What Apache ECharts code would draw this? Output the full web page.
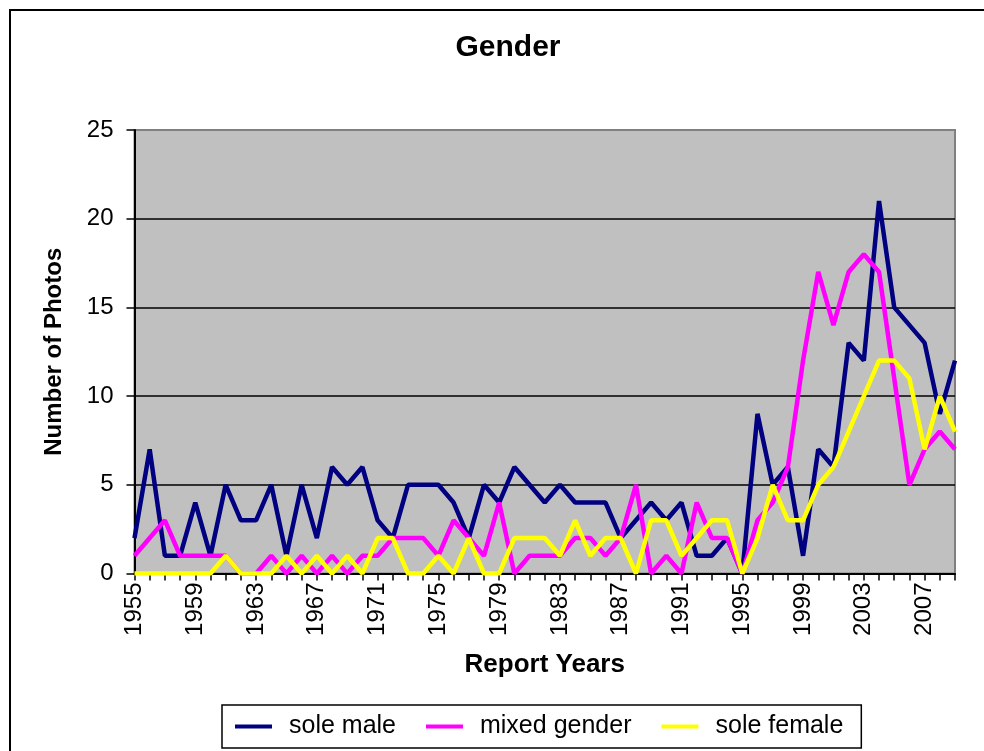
<!DOCTYPE html>
<html>
<head>
<meta charset="utf-8">
<title>Gender</title>
<script src="https://cdn.jsdelivr.net/npm/echarts@6/dist/echarts.min.js"></script>
<style>
  html, body { margin: 0; padding: 0; background: #fff; }
  #genderChart { width: 984px; height: 751px; }
</style>
</head>
<body>
<div id="genderChart"></div>
<script>
// report years on the category axis
const years = [
  "1955", "1956", "1957", "1958", "1959", "1960", "1961", "1962", "1963", "1964",
  "1965", "1966", "1967", "1968", "1969", "1970", "1971", "1972", "1973", "1974",
  "1975", "1976", "1977", "1978", "1979", "1980", "1981", "1982", "1983", "1984",
  "1985", "1986", "1987", "1988", "1989", "1990", "1991", "1992", "1993", "1994",
  "1995", "1996", "1997", "1998", "1999", "2000", "2001", "2002", "2003", "2004",
  "2005", "2006", "2007", "2008", "2009"
];
const soleMale = [
  2, 7, 1, 1, 4, 1, 5, 3, 3, 5,
  1, 5, 2, 6, 5, 6, 3, 2, 5, 5,
  5, 4, 2, 5, 4, 6, 5, 4, 5, 4,
  4, 4, 2, 3, 4, 3, 4, 1, 1, 2,
  0, 9, 5, 6, 1, 7, 6, 13, 12, 21,
  15, 14, 13, 9, 12
];
const mixedGender = [
  1, 2, 3, 1, 1, 1, 1, 0, 0, 1,
  0, 1, 0, 1, 0, 1, 1, 2, 2, 2,
  1, 3, 2, 1, 4, 0, 1, 1, 1, 2,
  2, 1, 2, 5, 0, 1, 0, 4, 2, 2,
  0, 3, 4, 6, 12, 17, 14, 17, 18, 17,
  11, 5, 7, 8, 7
];
const soleFemale = [
  0, 0, 0, 0, 0, 0, 1, 0, 0, 0,
  1, 0, 1, 0, 1, 0, 2, 2, 0, 0,
  1, 0, 2, 0, 0, 2, 2, 2, 1, 3,
  1, 2, 2, 0, 3, 3, 1, 2, 3, 3,
  0, 2, 5, 3, 3, 5, 6, 8, 10, 12,
  12, 11, 7, 10, 8
];
const yTicks = { min: 0, max: 25, step: 5 };

const font = "Liberation Sans";
let myChart = echarts.init(document.getElementById("genderChart"));

function lineSeries(name, data, color) {
  return {
    name: name,
    type: "line",
    data: data,
    symbol: "none",
    color: color,
    lineStyle: { color: color, width: 4.5 },
    animation: false
  };
}

let option = {
  backgroundColor: "#fff",
  textStyle: { fontFamily: font },
  title: {
    text: "Gender",
    left: 503,
    textAlign: "center",
    top: 28,
    textStyle: { fontFamily: font, fontWeight: "bold", fontSize: 30, color: "#000" }
  },
  // outer chart frame (runs off the right and bottom edge)
  graphic: [
    {
      type: "rect",
      shape: { x: 10, y: 10, width: 1000, height: 800 },
      style: { fill: "none", stroke: "#000", lineWidth: 2 },
      z: -1
    }
  ],
  grid: {
    left: 134.5,
    right: 29,
    top: 130,
    bottom: 177.5,
    show: true,
    backgroundColor: "#C0C0C0",
    borderColor: "#808080",
    borderWidth: 2
  },
  legend: {
    left: 222,
    top: 705,
    padding: [9, 18, 9, 13],
    borderColor: "#000",
    borderWidth: 1.5,
    itemGap: 30,
    itemWidth: 37,
    itemHeight: 4,
    icon: "rect",
    textStyle: { fontFamily: font, fontSize: 25, color: "#000", padding: [0, 0, 0, 12] },
    data: ["sole male", "mixed gender", "sole female"]
  },
  xAxis: {
    type: "category",
    data: years,
    boundaryGap: false,
    name: "Report Years",
    nameLocation: "middle",
    nameGap: 78,
    nameTextStyle: { fontFamily: font, fontWeight: "bold", fontSize: 26, color: "#000" },
    axisLine: { lineStyle: { color: "#000", width: 2 } },
    axisTick: { show: true, interval: 0, length: 7, lineStyle: { color: "#000", width: 1.5 } },
    axisLabel: {
      interval: 3,
      rotate: 90,
      margin: 9,
      fontFamily: font,
      fontSize: 24,
      color: "#000"
    },
    splitLine: { show: false }
  },
  yAxis: {
    type: "value",
    min: yTicks.min,
    max: yTicks.max,
    interval: yTicks.step,
    name: "Number of Photos",
    nameLocation: "middle",
    nameGap: 68,
    nameRotate: 90,
    nameTextStyle: { fontFamily: font, fontWeight: "bold", fontSize: 24, color: "#000" },
    axisLine: { show: true, lineStyle: { color: "#000", width: 2 } },
    axisTick: { show: true, length: 8, lineStyle: { color: "#000", width: 1.5 } },
    axisLabel: { margin: 21, fontFamily: font, fontSize: 24, color: "#000" },
    splitLine: {
      show: true,
      lineStyle: { color: ["#000", "#000", "#000", "#000", "#000", "#808080"], width: 1.5 }
    }
  },
  series: [
    lineSeries("sole male", soleMale, "#000080"),
    lineSeries("mixed gender", mixedGender, "#FF00FF"),
    lineSeries("sole female", soleFemale, "#FFFF00")
  ]
};

myChart.clear();
myChart.setOption(option);
</script>
</body>
</html>
